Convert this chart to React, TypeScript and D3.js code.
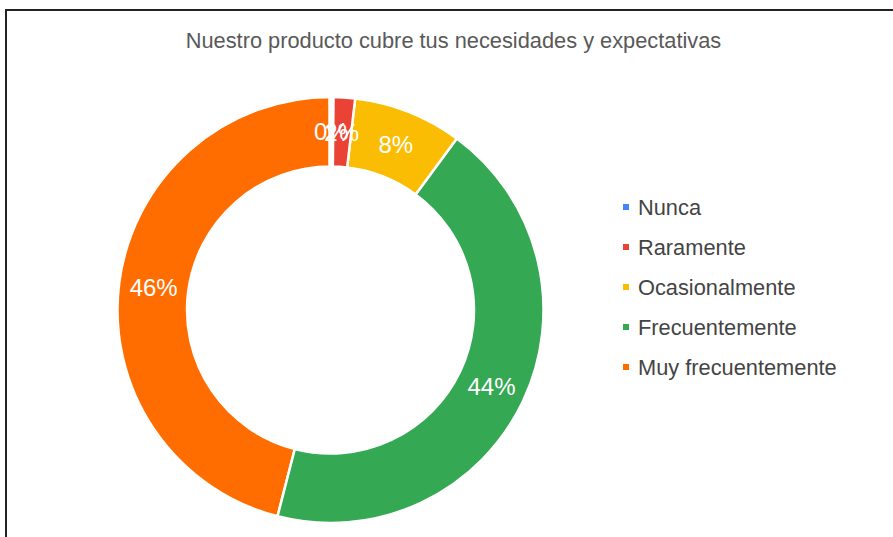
import React from "react";
import * as d3 from "d3";

const title = "Nuestro producto cubre tus necesidades y expectativas";
const categories = ["Nunca", "Raramente", "Ocasionalmente", "Frecuentemente", "Muy frecuentemente"];
const values = [0.15, 1.7, 8.25, 43.9, 46.0];
const labels = ["0%", "2%", "8%", "44%", "46%"];
const colors = ["#4285F4", "#EA4335", "#FBBC04", "#34A853", "#FF6D01"];

const W = 893;
const H = 537;
const cx = 330.5;
const cy = 310;
const outerR = 213;
const innerR = 143.5;

export default function App() {
  const pie = d3.pie<number>().sort(null).value((d) => d)(values);
  const arc = d3.arc<d3.PieArcDatum<number>>().innerRadius(innerR).outerRadius(outerR);
  const labelArc = d3
    .arc<d3.PieArcDatum<number>>()
    .innerRadius((innerR + outerR) / 2)
    .outerRadius((innerR + outerR) / 2);
  const legendY = d3.scalePoint<string>().domain(categories).range([207, 367]);
  const font = "Arial, 'Liberation Sans', sans-serif";
  const drawOrder = pie.map((p, i) => i).reverse();
  return (
    <svg
      width={W}
      height={H}
      style={{ position: "absolute", left: 0, top: 0, background: "#fff" }}
    >
      <rect x={0} y={0} width={W} height={H} fill="#fff" />
      <rect x={6} y={10} width={W + 20} height={H + 20} fill="none" stroke="#222" strokeWidth={2} />
      <text
        x={453.5}
        y={40}
        textAnchor="middle"
        dominantBaseline="central"
        fontFamily={font}
        fontSize={21.8}
        fill="#595959"
      >
        {title}
      </text>
      <g transform={`translate(${cx},${cy})`}>
        {drawOrder.map((i) => {
          const p = pie[i];
          const tiny = p.endAngle - p.startAngle < 0.02;
          return (
            <path
              key={i}
              d={arc(p) || ""}
              fill={colors[i]}
              stroke="#fff"
              strokeWidth={tiny ? 4.5 : 2.5}
            />
          );
        })}
        {pie.map((p, i) => {
          const [x, y] = labelArc.centroid(p);
          return (
            <text
              key={"l" + i}
              x={x}
              y={y}
              textAnchor="middle"
              dominantBaseline="central"
              fontFamily={font}
              fontSize={24}
              fill="#fff"
            >
              {labels[i]}
            </text>
          );
        })}
      </g>
      <g>
        {categories.map((c, i) => (
          <g key={c} transform={`translate(623,${legendY(c)})`}>
            <rect x={0} y={-3} width={6} height={6} fill={colors[i]} />
            <text
              x={15}
              y={0}
              dominantBaseline="central"
              fontFamily={font}
              fontSize={21.8}
              fill="#444"
            >
              {c}
            </text>
          </g>
        ))}
      </g>
    </svg>
  );
}
